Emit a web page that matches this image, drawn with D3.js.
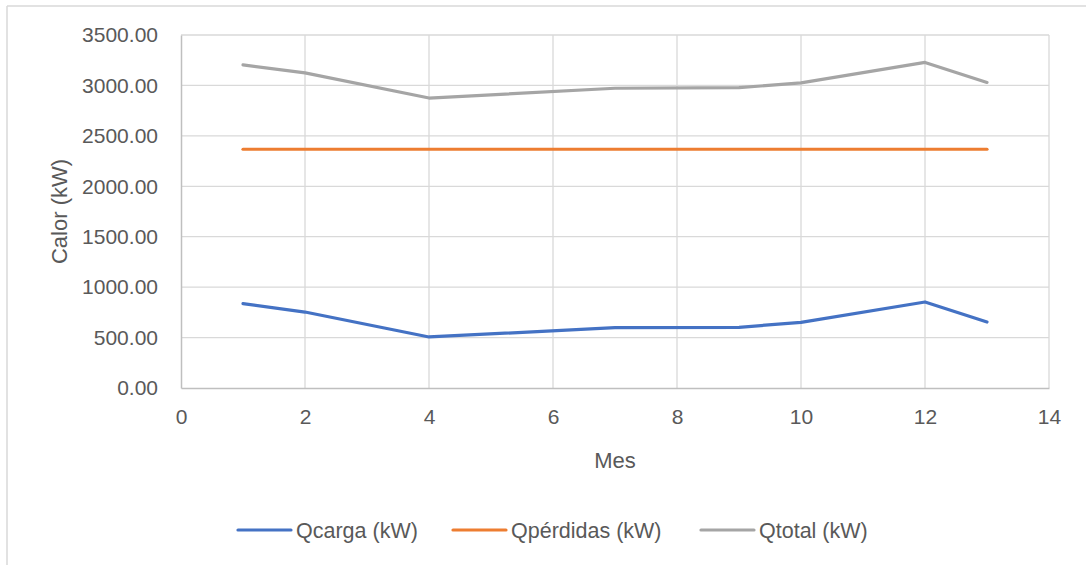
<!DOCTYPE html>
<html>
<head>
<meta charset="utf-8">
<script src="https://cdn.jsdelivr.net/npm/d3@7"></script>
<style>
  html, body { margin: 0; padding: 0; background: #fff; }
  svg { display: block; font-family: "Liberation Sans", Arial, sans-serif; }
</style>
</head>
<body>
<svg id="chart" width="1086" height="565"></svg>
<script>
const meses = [1, 2, 4, 7, 9, 10, 12, 13];
const qCarga = [836, 753, 506, 598, 602, 651, 853, 654];
const qPerdidas = [2367, 2367, 2367, 2367, 2367, 2367, 2367, 2367];
const qTotal = [3203, 3125, 2875, 2972, 2978, 3025, 3228, 3030];
const seriesNames = ["Qcarga (kW)", "Qpérdidas (kW)", "Qtotal (kW)"];
const seriesColors = ["#4472C4", "#ED7D31", "#A5A5A5"];
const xTicks = [0, 2, 4, 6, 8, 10, 12, 14];
const yTicks = [0, 500, 1000, 1500, 2000, 2500, 3000, 3500];

const svg = d3.select("#chart");
const W = 1086, H = 565;
const plot = { left: 181, right: 1049, top: 35, bottom: 388 };

// outer chart border (only top and left visible in reference)
svg.append("line").attr("x1", 7).attr("x2", W).attr("y1", 6).attr("y2", 6)
  .attr("stroke", "#d9d9d9").attr("stroke-width", 1.5);
svg.append("line").attr("x1", 7).attr("x2", 7).attr("y1", 6).attr("y2", H)
  .attr("stroke", "#d9d9d9").attr("stroke-width", 1.5);

const x = d3.scaleLinear().domain([0, 14]).range([plot.left, plot.right]);
const y = d3.scaleLinear().domain([0, 3500]).range([plot.bottom, plot.top]);

// gridlines
svg.append("g").selectAll("line.h").data(yTicks.filter(d => d > 0)).join("line")
  .attr("x1", plot.left).attr("x2", plot.right)
  .attr("y1", d => y(d)).attr("y2", d => y(d))
  .attr("stroke", "#d9d9d9").attr("stroke-width", 1.3);
svg.append("g").selectAll("line.v").data(xTicks.filter(d => d > 0)).join("line")
  .attr("x1", d => x(d)).attr("x2", d => x(d))
  .attr("y1", plot.top).attr("y2", plot.bottom)
  .attr("stroke", "#d9d9d9").attr("stroke-width", 1.3);

// axes
const yAxis = d3.axisLeft(y).tickValues(yTicks).tickFormat(d3.format(".2f")).tickSize(0).tickPadding(23);
const gy = svg.append("g").attr("transform", `translate(${plot.left},0)`).call(yAxis);
gy.select(".domain").attr("stroke", "#bfbfbf").attr("stroke-width", 1.5);
gy.selectAll("text").attr("font-size", 21).attr("fill", "#595959")
  .attr("font-family", "'Liberation Sans', Arial, sans-serif");

const xAxis = d3.axisBottom(x).tickValues(xTicks).tickFormat(d3.format("d")).tickSize(0).tickPadding(21);
const gx = svg.append("g").attr("transform", `translate(0,${plot.bottom})`).call(xAxis);
gx.select(".domain").attr("stroke", "#bfbfbf").attr("stroke-width", 1.5);
gx.selectAll("text").attr("font-size", 21).attr("fill", "#595959")
  .attr("font-family", "'Liberation Sans', Arial, sans-serif");

// axis titles
svg.append("text").attr("x", (plot.left + plot.right) / 2).attr("y", 468)
  .attr("text-anchor", "middle").attr("font-size", 22).attr("fill", "#595959").text("Mes");
svg.append("text").attr("transform", `translate(67,${(plot.top + plot.bottom) / 2}) rotate(-90)`)
  .attr("text-anchor", "middle").attr("font-size", 22).attr("fill", "#595959").text("Calor (kW)");

// lines
const allSeries = [qCarga, qPerdidas, qTotal];
const line = d3.line().x(d => x(d[0])).y(d => y(d[1]));
allSeries.forEach((vals, i) => {
  svg.append("path")
    .datum(meses.map((m, j) => [m, vals[j]]))
    .attr("d", line)
    .attr("fill", "none")
    .attr("stroke", seriesColors[i])
    .attr("stroke-width", 3.2)
    .attr("stroke-linecap", "round")
    .attr("stroke-linejoin", "round");
});

// legend
const legendX = [238, 453, 701];
const legendY = 530;
seriesNames.forEach((name, i) => {
  const g = svg.append("g").attr("transform", `translate(${legendX[i]},${legendY})`);
  g.append("line").attr("x1", 0).attr("x2", 53).attr("y1", 0).attr("y2", 0)
    .attr("stroke", seriesColors[i]).attr("stroke-width", 3.2).attr("stroke-linecap", "round");
  g.append("text").attr("x", 58).attr("y", 0).attr("dy", "0.35em")
    .attr("font-size", 21.5).attr("fill", "#595959").text(name);
});
</script>
</body>
</html>
